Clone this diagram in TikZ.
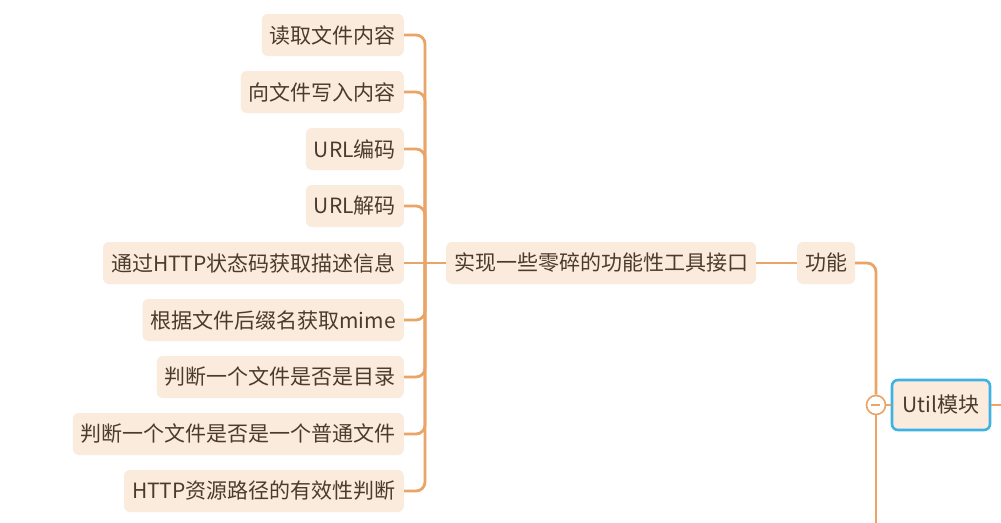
\documentclass[tikz,border=0pt]{standalone}
\usepackage{fontspec}
\setmainfont{Noto Sans CJK SC}
\usetikzlibrary{calc}
\definecolor{schrift}{HTML}{4A3B2C}
\definecolor{kasten}{HTML}{FBEBDD}
\definecolor{ast}{HTML}{E9A466}
\definecolor{wahl}{HTML}{3DB2E3}
\tikzset{blatt/.style={fill=kasten,text=schrift,rounded corners=6pt,inner xsep=8pt,
    minimum height=42pt,font=\fontsize{21}{24}\selectfont},
  zweig/.style={ast,line width=2.8pt,rounded corners=9pt},
  knopf/.style={circle,draw=ast,fill=white,line width=1.6pt,minimum size=19pt,inner sep=0pt}}
\newcommand{\blatt}[3]{\node[blatt,anchor=east] (#1) at (404,#2) {#3};}

\begin{document}
\begin{tikzpicture}[x=1pt,y=-1pt]
\useasboundingbox (0,0) rectangle (1001,522);
\fill[white] (0,0) rectangle (1001,522);
% linke Blaetter
\blatt{lesen}{35}{读取文件内容}
\blatt{schreiben}{92}{向文件写入内容}
\blatt{kodieren}{149}{URL编码}
\blatt{dekodieren}{206}{URL解码}
\blatt{status}{263}{通过HTTP状态码获取描述信息}
\blatt{mime}{320}{根据文件后缀名获取mime}
\blatt{verz}{377}{判断一个文件是否是目录}
\blatt{datei}{434}{判断一个文件是否是一个普通文件}
\blatt{pfad}{491}{HTTP资源路径的有效性判断}
% Mitte
\node[blatt] (werkzeug) at (601,263) {实现一些零碎的功能性工具接口};
\node[blatt] (funktion) at (826,263) {功能};
\node[blatt,draw=wahl,line width=2.6pt,minimum height=50pt,minimum width=98pt] (util) at (941,405) {Util模块};
\node[knopf] (knopf) at (876,405) {};
\coordinate (gabel) at (425,263);
\coordinate (unten) at (876,530);
\coordinate (rechts) at (1010,405);
% Verbindungen
\foreach \b in {lesen,schreiben,kodieren,dekodieren,mime,verz,datei,pfad}
  \draw[zweig] (\b.east) -| (gabel);
\draw[zweig] (status) -- (werkzeug);
\draw[zweig] (werkzeug) -- (funktion);
\draw[zweig] (funktion.east) -| (knopf.north);
\draw[zweig] (knopf.south) -- (unten);
\draw[zweig] (knopf.east) -- (util.west);
\draw[zweig] (util.east) -- (rechts);
\draw[ast,line width=1.6pt] (knopf.west) ++(5,0) -- ++(9,0);
\end{tikzpicture}
\end{document}
